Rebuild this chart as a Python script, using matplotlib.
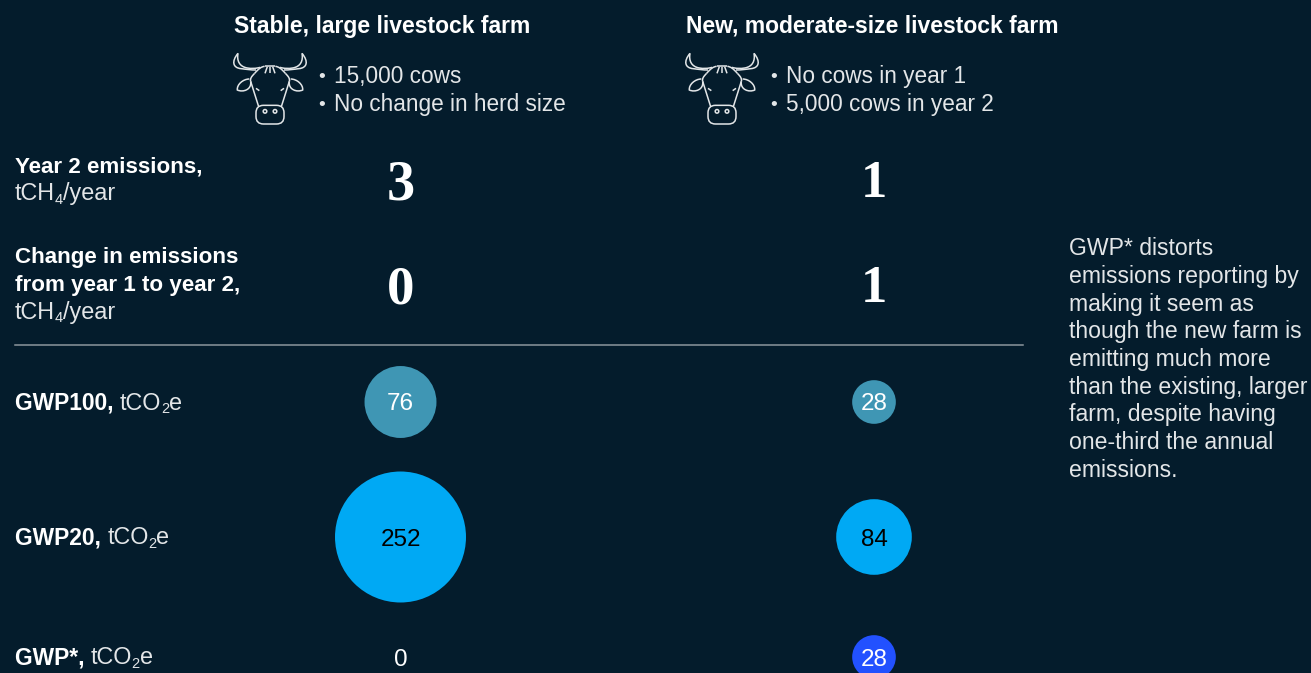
import matplotlib.pyplot as plt
from matplotlib.path import Path
from matplotlib.patches import PathPatch, Circle, FancyBboxPatch

# Data
farms = ['Stable, large livestock farm', 'New, moderate-size livestock farm']
farm_notes = [['15,000 cows', 'No change in herd size'],
              ['No cows in year 1', '5,000 cows in year 2']]
year2_emissions = [3, 1]
change_emissions = [0, 1]
gwp100 = [76, 28]
gwp20 = [252, 84]
gwp_star = [0, 28]
note_lines = ['GWP* distorts', 'emissions reporting by', 'making it seem as',
              'though the new farm is', 'emitting much more',
              'than the existing, larger', 'farm, despite having',
              'one-third the annual', 'emissions.']

# Colours
bg = '#041C2C'
white = '#FFFFFF'
light = '#E3E6E8'
rule = '#8C969D'

plt.rcParams['font.family'] = ['Liberation Sans', 'DejaVu Sans']

fig = plt.figure(figsize=(13.11, 6.73), dpi=100, facecolor=bg)
ax = fig.add_axes([0, 0, 1, 1])
ax.set_xlim(0, 1311)
ax.set_ylim(673, 0)
ax.axis('off')
renderer = fig.canvas.get_renderer()

col_x = [400.5, 874]
head_x = [234, 686]


def draw_runs(x, y, runs):
    # each run: text, weight, size, baseline shift, colour, gap after
    for s, weight, size, dy, color, gap in runs:
        t = ax.text(x, y + dy, s, fontweight=weight, fontsize=size, color=color,
                    ha='left', va='baseline')
        x = t.get_window_extent(renderer).x1 + gap


def unit_label(x, y, bold, pre, sub, post):
    runs = []
    if bold:
        runs.append((bold, 'bold', 16.4, 0, white, 0))
    runs += [(pre, 'normal', 16.8, 0, light, -0.5),
             (sub, 'normal', 10.5, 3.5, light, 0),
             (post, 'normal', 16.8, 0, light, 0)]
    draw_runs(x, y, runs)


def bull(x0, y0):
    # cow icon, drawn from its left/top corner
    def p(verts, codes):
        vv = [(x0 + a / 3, y0 + b / 3) for a, b in verts]
        ax.add_patch(PathPatch(Path(vv, codes), fc='none', ec=light, lw=1.1))

    M, L, C = Path.MOVETO, Path.LINETO, Path.CURVE4
    for m in (1, -1):
        f = lambda a: 126 + m * (a - 126)
        # horn
        p([(f(30), 16), (f(10), 40), (f(14), 60), (f(40), 62),
           (f(55), 64), (f(68), 66), (f(84), 66)], [M, C, C, C, C, C, C])
        p([(f(30), 16), (f(26), 38), (f(34), 56), (f(58), 60),
           (f(70), 62), (f(84), 62), (f(96), 58)], [M, C, C, C, C, C, C])
        # ear
        p([(f(64), 93), (f(45), 93), (f(26), 110), (f(28), 126),
           (f(45), 134), (f(72), 125), (f(68), 100)], [M, C, C, C, C, C, C])
        # side of head
        p([(f(80), 76), (f(70), 86), (f(66), 92), (f(68), 100)], [M, C, C, C])
        p([(f(68), 100), (f(92), 176)], [M, L])
        # top corner of head
        p([(f(80), 76), (f(92), 62), (f(100), 56), (f(110), 55)], [M, C, C, C])
        # eye
        p([(f(84), 121), (f(94), 128)], [M, L])
        # forehead
        p([(f(111), 76), (f(118), 56)], [M, L])
        # nostril
        ax.add_patch(Circle((x0 + f(111) / 3, y0 + 190 / 3), 1.8, fc='none', ec=light, lw=1.1))
    p([(110, 55), (142, 55)], [M, L])
    p([(126, 56), (126, 76)], [M, L])
    ax.add_patch(FancyBboxPatch((x0 + 96 / 3, y0 + 184 / 3), 60 / 3, 32 / 3,
                                boxstyle='round,pad=4,rounding_size=7.5',
                                fc='none', ec=light, lw=1.1))


# Column headers
for i in range(2):
    ax.text(head_x[i], 33, farms[i], fontsize=16.5, fontweight='bold', color=white, va='baseline')
    bull(head_x[i] - 6, 48)
    for j, line in enumerate(farm_notes[i]):
        yy = 83 + j * 28
        ax.text(head_x[i] + 84, yy - 1, '•', fontsize=14, color=light, va='baseline')
        ax.text(head_x[i] + 100, yy, line, fontsize=16.3, color=light, va='baseline')

# Row labels
ax.text(15, 172, 'Year 2 emissions,', fontsize=16.1, fontweight='bold', color=white, va='baseline')
unit_label(15, 200, None, 'tCH', '4', '/year')
ax.text(15, 263, 'Change in emissions', fontsize=16.1, fontweight='bold', color=white, va='baseline')
ax.text(15, 291, 'from year 1 to year 2,', fontsize=16.1, fontweight='bold', color=white, va='baseline')
unit_label(15, 319, None, 'tCH', '4', '/year')
unit_label(15, 409.5, 'GWP100, ', 'tCO', '2', 'e')
unit_label(15, 544.5, 'GWP20, ', 'tCO', '2', 'e')
unit_label(15, 664, 'GWP*, ', 'tCO', '2', 'e')

# Big serif numbers, the 3 is an old-style figure in the source
serif_size = {0: 39.5, 1: 38, 3: 40.5}
serif_drop = {0: 1, 1: 0, 3: 2.5}
for i in range(2):
    for y, v in ((197, year2_emissions[i]), (302, change_emissions[i])):
        ax.text(col_x[i], y + serif_drop[v], str(v), fontsize=serif_size[v], fontweight='bold',
                family='Liberation Serif', color=white, ha='center', va='baseline')

ax.plot([15, 1023], [345, 345], color=rule, lw=1.1)

# Bubbles, area follows the value
size_per_unit = (131 * 0.72) ** 2 / 252
bubble_rows = [(gwp100, 402, '#3F96B4', white),
               (gwp20, 537, '#00A9F4', 'black'),
               (gwp_star, 657, '#2251FF', white)]
for values, y, color, label_color in bubble_rows:
    ax.scatter(col_x, [y, y], s=[v * size_per_unit for v in values], color=color, linewidths=0)
    for i, v in enumerate(values):
        c = white if v == 0 else label_color
        ax.text(col_x[i], y + 8.5, str(v), fontsize=17.5, color=c, ha='center', va='baseline')

# Side note
for i, line in enumerate(note_lines):
    ax.text(1069, 255 + i * 27.75, line, fontsize=16.6, color=light, va='baseline')

plt.savefig('out.png', dpi=100, facecolor=bg)
